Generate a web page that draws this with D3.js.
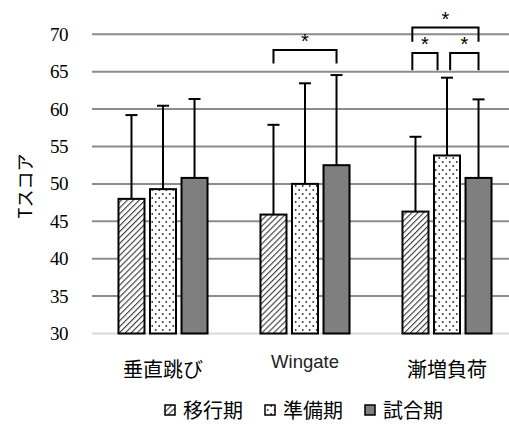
<!DOCTYPE html>
<html>
<head>
<meta charset="utf-8">
<script src="https://cdn.jsdelivr.net/npm/d3@7"></script>
<style>
  html, body { margin: 0; padding: 0; background: #fff; }
  svg { display: block; }
</style>
</head>
<body>
<div id="chart"></div>
<script>
// Categories (tests) and training periods
const categories = ["垂直跳び", "Wingate", "漸増負荷"];
const periods = ["移行期", "準備期", "試合期"];

// Mean T-scores per period, in category order
const meanTransition = [48.0, 45.9, 46.3];
const meanPreparation = [49.3, 50.0, 53.8];
const meanCompetition = [50.8, 52.5, 50.8];

// Standard deviations (drawn upward only)
const sdTransition = [11.2, 12.0, 10.0];
const sdPreparation = [11.15, 13.45, 10.4];
const sdCompetition = [10.55, 12.05, 10.5];

const yTicks = [30, 35, 40, 45, 50, 55, 60, 65, 70];

// Significance brackets: category, bar positions (period index), heights in score units
const brackets = [
  { cat: "Wingate", from: 0, to: 2, top: 67.9, foot: 66.1 },
  { cat: "漸増負荷", from: -0.1, to: 2, top: 70.9, foot: 69.0 },
  { cat: "漸増負荷", from: -0.1, to: 0.7, top: 67.5, foot: 65.2 },
  { cat: "漸増負荷", from: 1.1, to: 2, top: 67.5, foot: 65.2 }
];

const means = [meanTransition, meanPreparation, meanCompetition];
const sds = [sdTransition, sdPreparation, sdCompetition];

const rows = [];
categories.forEach((c, ci) => {
  periods.forEach((p, pi) => {
    rows.push({ cat: c, period: p, pi, mean: means[pi][ci], sd: sds[pi][ci] });
  });
});

const W = 509, H = 428;
const svg = d3.select("#chart").append("svg")
  .attr("width", W).attr("height", H);

const defs = svg.append("defs");

// diagonal hatch
const hatch = defs.append("pattern")
  .attr("id", "hatch").attr("patternUnits", "userSpaceOnUse")
  .attr("width", 4.2).attr("height", 4.2)
  .attr("patternTransform", "rotate(45)");
hatch.append("rect").attr("width", 4.2).attr("height", 4.2).attr("fill", "#fff");
hatch.append("line").attr("x1", 0).attr("y1", 0).attr("x2", 0).attr("y2", 4.2)
  .attr("stroke", "#3a3a3a").attr("stroke-width", 2.2);

// staggered dots
const dots = defs.append("pattern")
  .attr("id", "dots").attr("patternUnits", "userSpaceOnUse")
  .attr("width", 7).attr("height", 8);
dots.append("rect").attr("width", 7).attr("height", 8).attr("fill", "#fff");
dots.append("circle").attr("cx", 1.75).attr("cy", 2).attr("r", 0.95).attr("fill", "#333");
dots.append("circle").attr("cx", 5.25).attr("cy", 6).attr("r", 0.95).attr("fill", "#333");

const fills = { "移行期": "url(#hatch)", "準備期": "url(#dots)", "試合期": "#7f7f7f" };

const x = d3.scaleBand().domain(categories).range([92, 518]).padding(0);
const inner = d3.scaleBand().domain(periods).range([0, x.bandwidth()])
  .paddingInner(0.175).paddingOuter(0.84);
const y = d3.scaleLinear().domain([30, 70]).range([333.5, 34.3]);

// gridlines
svg.append("g").selectAll("line").data(yTicks).join("line")
  .attr("x1", 92).attr("x2", W)
  .attr("y1", d => y(d)).attr("y2", d => y(d))
  .attr("stroke", d => d === 30 ? "#d9d9d9" : "#8c8c8c")
  .attr("stroke-width", 2);

// y tick labels (serif numerals)
const yAxis = d3.axisLeft(y).tickValues(yTicks).tickSize(0).tickPadding(24);
const ya = svg.append("g")
  .attr("transform", "translate(92,0)").call(yAxis)
  .attr("font-family", "'Times New Roman', Tinos, 'Liberation Serif', 'DejaVu Serif', serif")
  .attr("font-size", 19);
ya.select(".domain").remove();
ya.selectAll("text").attr("fill", "#000").attr("letter-spacing", -0.5);

// y axis title
svg.append("text")
  .attr("transform", "translate(24,186) rotate(-90)")
  .attr("text-anchor", "middle").attr("dominant-baseline", "central")
  .attr("font-family", "Noto Sans CJK JP")
  .attr("font-size", 18).attr("fill", "#000")
  .text("Tスコア");

const cx = d => x(d.cat) + inner(d.period) + inner.bandwidth() / 2;

// error bars (upper only)
const eb = svg.append("g").attr("stroke", "#000").attr("stroke-width", 2);
eb.selectAll("line.v").data(rows).join("line").attr("class", "v")
  .attr("x1", cx).attr("x2", cx)
  .attr("y1", d => y(d.mean)).attr("y2", d => y(d.mean + d.sd));
eb.selectAll("line.c").data(rows).join("line").attr("class", "c")
  .attr("x1", d => cx(d) - 6).attr("x2", d => cx(d) + 6)
  .attr("y1", d => y(d.mean + d.sd)).attr("y2", d => y(d.mean + d.sd));

// bars
svg.append("g").selectAll("rect").data(rows).join("rect")
  .attr("x", d => x(d.cat) + inner(d.period))
  .attr("width", inner.bandwidth())
  .attr("y", d => y(d.mean))
  .attr("height", d => y(30) - y(d.mean))
  .attr("fill", d => fills[d.period])
  .attr("stroke", "#000").attr("stroke-width", 2);

// category labels
svg.append("g").selectAll("text").data(categories).join("text")
  .attr("x", d => x(d) + x.bandwidth() / 2)
  .attr("y", d => d === "Wingate" ? 368 : 377)
  .attr("text-anchor", "middle")
  .attr("font-family", d => d === "Wingate" ? "Liberation Sans" : "Noto Sans CJK JP")
  .attr("font-size", d => d === "Wingate" ? 18.5 : 20)
  .attr("fill", d => d === "Wingate" ? "#222" : "#000")
  .text(d => d);

// significance brackets
const step = inner.step();
const bx = (b, pos) => x(b.cat) + inner(periods[0]) + inner.bandwidth() / 2 + pos * step;
const bg = svg.append("g");
bg.selectAll("path").data(brackets).join("path")
  .attr("d", b => `M${bx(b, b.from)},${y(b.foot)}V${y(b.top)}H${bx(b, b.to)}V${y(b.foot)}`)
  .attr("fill", "none").attr("stroke", "#000").attr("stroke-width", 2);
bg.selectAll("text").data(brackets).join("text")
  .attr("x", b => (bx(b, b.from) + bx(b, b.to)) / 2)
  .attr("y", b => y(b.top) - 2)
  .attr("text-anchor", "middle")
  .attr("font-family", "Liberation Sans")
  .attr("font-size", 20).attr("fill", "#000")
  .text("*");

// legend
const legend = svg.append("g").attr("font-family", "Noto Sans CJK JP").attr("font-size", 20);
const lx = [165, 265, 365];
periods.forEach((p, i) => {
  legend.append("rect")
    .attr("x", lx[i]).attr("y", 405).attr("width", 10).attr("height", 10)
    .attr("fill", fills[p]).attr("stroke", "#000").attr("stroke-width", 1.5);
  legend.append("text")
    .attr("x", lx[i] + 18).attr("y", 418)
    .attr("fill", "#000")
    .text(p);
});
</script>
</body>
</html>
